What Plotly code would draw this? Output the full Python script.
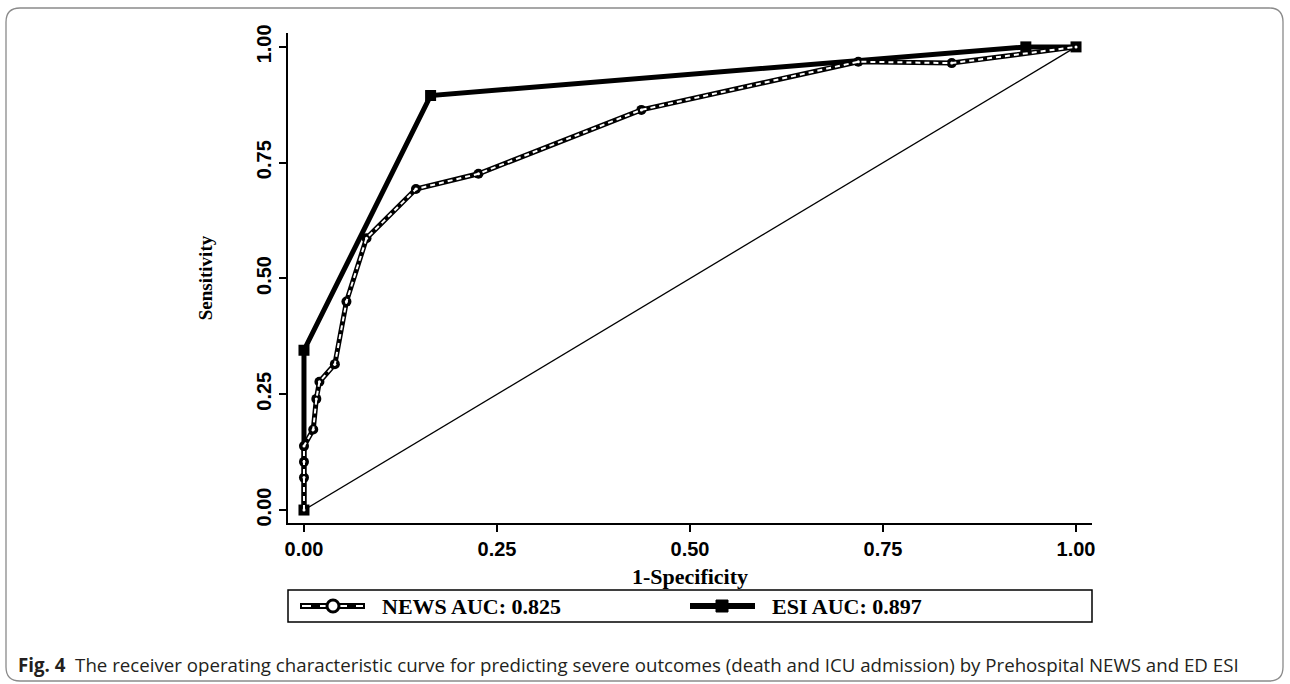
import plotly.graph_objects as go

# ---------------- data ----------------
news_fpr = [0, 0, 0, 0, 0.012, 0.016, 0.02, 0.04, 0.055, 0.081, 0.145, 0.226, 0.437, 0.718, 0.839, 1.0]
news_tpr = [0, 0.07, 0.104, 0.138, 0.174, 0.24, 0.277, 0.315, 0.45, 0.587, 0.693, 0.726, 0.864, 0.968, 0.965, 1.0]
esi_fpr = [0, 0, 0.164, 0.935, 1.0]
esi_tpr = [0, 0.345, 0.895, 1.0, 1.0]
ref_fpr = [0, 1]
ref_tpr = [0, 1]
tick_vals = [0, 0.25, 0.5, 0.75, 1.0]
tick_text = ["0.00", "0.25", "0.50", "0.75", "1.00"]
legend_labels = ["NEWS AUC: 0.825", "ESI AUC: 0.897"]
caption_bold = "Fig. 4"
caption_text = ("The receiver operating characteristic curve for predicting severe outcomes "
                "(death and ICU admission) by Prehospital NEWS and ED ESI")

# ---------------- geometry ----------------
W, H = 1290, 684
L, R, T, B = 288, 1092, 33, 523  # plot area in px


def px(xp):
    return (xp - L) / (R - L)


def py(yp):
    return (B - yp) / (B - T)


fig = go.Figure()

fig.add_trace(go.Scatter(x=ref_fpr, y=ref_tpr, mode="lines",
                         line=dict(color="black", width=1.3), showlegend=False, hoverinfo="skip"))

fig.add_trace(go.Scatter(x=esi_fpr, y=esi_tpr, mode="lines+markers", name=legend_labels[1],
                         line=dict(color="black", width=5),
                         marker=dict(symbol="square", size=11, color="black"),
                         showlegend=False))

fig.add_trace(go.Scatter(x=news_fpr, y=news_tpr, mode="lines+markers", name=legend_labels[0],
                         line=dict(color="black", width=5),
                         marker=dict(symbol="circle", size=10, color="black"),
                         showlegend=False))
fig.add_trace(go.Scatter(x=news_fpr, y=news_tpr, mode="lines+markers",
                         line=dict(color="white", width=2, dash="5px,4px"),
                         marker=dict(symbol="circle", size=3, color="white"),
                         showlegend=False, hoverinfo="skip"))

axis_common = dict(showline=True, linecolor="black", linewidth=1.5, ticks="outside",
                   ticklen=7, tickwidth=1.5, tickcolor="black", showgrid=False, zeroline=False,
                   tickvals=tick_vals, ticktext=tick_text,
                   tickfont=dict(family="Liberation Sans", size=20, color="black", weight="bold"))

fig.update_xaxes(range=[-0.0207, 1.0207], **axis_common,
                 title=dict(text="1-Specificity", standoff=10,
                            font=dict(family="Liberation Serif", size=22, color="black", weight="bold")))
fig.update_yaxes(range=[-0.028, 1.030], tickangle=-90, **axis_common,
                 title=dict(text="Sensitivity", standoff=36,
                            font=dict(family="Liberation Serif", size=19, color="black", weight="bold")))

shapes = []
annotations = []

# legend box
lb_top, lb_bot = 590, 622
shapes.append(dict(type="rect", xref="paper", yref="paper", x0=px(L), x1=px(R),
                   y0=py(lb_bot), y1=py(lb_top), line=dict(color="black", width=1.5)))
ly = py((lb_top + lb_bot) / 2)
# NEWS sample
x0n, x1n = 300, 365
shapes.append(dict(type="line", xref="paper", yref="paper", x0=px(x0n), x1=px(x1n), y0=ly, y1=ly,
                   line=dict(color="black", width=6)))
shapes.append(dict(type="line", xref="paper", yref="paper", x0=px(x0n + 2), x1=px(x1n - 2), y0=ly, y1=ly,
                   line=dict(color="white", width=2, dash="dash")))
shapes.append(dict(type="circle", xref="paper", yref="paper", x0=px(327), x1=px(339),
                   y0=ly - 6 / (B - T), y1=ly + 6 / (B - T),
                   line=dict(color="black", width=3), fillcolor="white"))
# ESI sample
x0e, x1e = 690, 755
shapes.append(dict(type="line", xref="paper", yref="paper", x0=px(x0e), x1=px(x1e), y0=ly, y1=ly,
                   line=dict(color="black", width=6)))
shapes.append(dict(type="rect", xref="paper", yref="paper", x0=px(716), x1=px(728),
                   y0=ly - 6 / (B - T), y1=ly + 6 / (B - T),
                   line=dict(color="black", width=1), fillcolor="black"))
for xt, txt in [(380, legend_labels[0]), (770, legend_labels[1])]:
    annotations.append(dict(xref="paper", yref="paper", x=px(xt), y=ly, xanchor="left", yanchor="middle",
                            text=txt, showarrow=False,
                            font=dict(family="Liberation Serif", size=22, color="black", weight="bold")))

# caption
annotations.append(dict(xref="paper", yref="paper", x=px(16), y=py(664), xanchor="left", yanchor="middle",
                        text="<b>" + caption_bold + "</b>  " + caption_text, showarrow=False,
                        font=dict(family="Open Sans", size=18.7, color="#231f20")))

# rounded frame
fx0, fx1, fy0, fy1, r = 6, 1283, 8, 681, 14
path = (f"M {px(fx0 + r)},{py(fy0)} L {px(fx1 - r)},{py(fy0)} Q {px(fx1)},{py(fy0)} {px(fx1)},{py(fy0 + r)} "
        f"L {px(fx1)},{py(fy1 - r)} Q {px(fx1)},{py(fy1)} {px(fx1 - r)},{py(fy1)} "
        f"L {px(fx0 + r)},{py(fy1)} Q {px(fx0)},{py(fy1)} {px(fx0)},{py(fy1 - r)} "
        f"L {px(fx0)},{py(fy0 + r)} Q {px(fx0)},{py(fy0)} {px(fx0 + r)},{py(fy0)} Z")
shapes.append(dict(type="path", xref="paper", yref="paper", path=path,
                   line=dict(color="#8a8a8a", width=1.3)))

fig.update_layout(width=W, height=H, margin=dict(l=L, r=W - R, t=T, b=H - B, autoexpand=False),
                  plot_bgcolor="white", paper_bgcolor="white", showlegend=False,
                  shapes=shapes, annotations=annotations)

fig.write_html("out.html", config={"displayModeBar": False},
               post_script="document.body.style.margin='0';document.body.style.overflow='hidden';")
